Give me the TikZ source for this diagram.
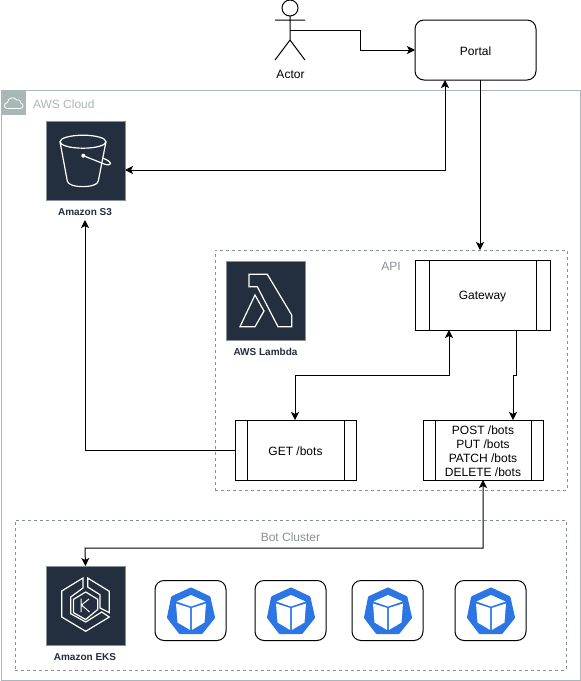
\documentclass[tikz,border=0pt]{standalone}
\usepackage{fontspec}
\setmainfont{Liberation Sans}
\usetikzlibrary{arrows.meta}
\definecolor{awsgrey}{HTML}{AAB7B8}
\definecolor{awsnavy}{HTML}{232F3E}
\definecolor{dashgrey}{HTML}{879196}
\definecolor{kubeblue}{HTML}{2C75E4}
\newcommand{\dropbox}[2]{\raisebox{0pt}[\dimexpr\height+#1\relax]{#2}}
\tikzset{
  x=1pt,y=-1pt,
  every node/.style={inner sep=0pt,outer sep=0pt,font=\fontsize{12}{14}\selectfont,text=black},
  flow/.style={draw=black,line width=1pt,-{Stealth[length=8pt,width=8pt,inset=2pt]}},
  biflow/.style={draw=black,line width=1pt,{Stealth[length=8pt,width=8pt,inset=2pt]}-{Stealth[length=8pt,width=8pt,inset=2pt]}},
  group/.style={draw=dashgrey,dash pattern=on 3pt off 3pt,line width=.8pt},
  procbox/.style={draw=black,line width=1pt,fill=white,align=center},
  icontile/.style={draw=dashgrey,line width=.8pt,fill=awsnavy,minimum width=79pt,minimum height=79pt},
  iconline/.style={draw=white,line width=1.2pt,line join=miter},
  iconlabel/.style={font=\fontsize{10}{12}\selectfont\bfseries,text=awsnavy},
  grouplabel/.style={font=\fontsize{12}{14}\selectfont,text=dashgrey},
  kubetile/.style={draw=black,line width=1pt,rounded corners=9pt,fill=white,minimum width=71pt,minimum height=60pt},
  pics/kube/.style={code={
    \fill[kubeblue,line join=round,draw=kubeblue,line width=3pt]
      (0.5,-21.5) -- (18.5,-13) -- (23,7) -- (11,22) -- (-10.5,22) -- (-22,7) -- (-18,-13) -- cycle;
    \fill[white] (0.5,-15.5) -- (15,-9) -- (0.5,-4) -- (-14,-9) -- cycle;
    \fill[white] (-14.5,-7) -- (-0.3,-2.5) -- (-0.3,19.5) -- (-13,12) -- cycle;
    \fill[white] (15.5,-7) -- (1.3,-2.5) -- (1.3,19.5) -- (14,12) -- cycle;
  }}
}
\begin{document}
\begin{tikzpicture}
\useasboundingbox (0,0) rectangle (581,681);
\fill[white] (0,0) rectangle (581,681);

% AWS Cloud group
\node[draw=awsgrey,line width=1pt,minimum width=579pt,minimum height=590pt,anchor=north west] (cloud) at (1,90) {};
\node[fill=awsgrey,minimum width=25pt,minimum height=25pt,anchor=north west] (cloudtab) at (1,90) {};
\draw[white,line width=.8pt,line join=round]
  (7,108.5) .. controls (3.5,108.5) and (3.5,103) .. (7.5,102.5)
  .. controls (8,97.5) and (14,96) .. (16.5,100)
  .. controls (20,99) and (21,102) .. (20.5,103)
  .. controls (24,103.5) and (24,108.5) .. (20,108.5) -- cycle;
\node[grouplabel,text=awsgrey,anchor=west] (cloudlabel) at (33,104) {AWS Cloud};

% dashed groups
\node[group,minimum width=352pt,minimum height=240pt,anchor=north west] (api) at (215,250) {};
\node[grouplabel] (apilabel) at (391,266) {API};
\node[group,minimum width=551pt,minimum height=150pt,anchor=north west] (bots) at (15,520) {};
\node[grouplabel] (botlabel) at (290.5,537) {Bot Cluster};

% Actor
\node[draw=black,line width=1pt,circle,minimum size=16pt,fill=white] (head) at (290,8) {};
\coordinate (waist) at (290,30);
\draw[line width=1pt,line join=miter] (head.south) -- (290,40) (275,20) -- (305,20) (275,60) -- (290,40) -- (305,60);
\node (actorlabel) at (290.5,74) {Actor};

% Portal
\node[draw=black,line width=1pt,rounded corners=9pt,minimum width=121pt,minimum height=60pt,anchor=north west] (portal) at (415,20) {\dropbox{2pt}{Portal}};

% AWS tiles
\node[icontile,anchor=north west] (s3) at (46,121) {};
\node[iconlabel] (s3label) at (85,212) {Amazon S3};
\node[icontile,anchor=north west] (lambda) at (226,261) {};
\node[iconlabel] (lambdalabel) at (265.5,352) {AWS Lambda};
\node[icontile,anchor=north west] (eks) at (46,566) {};
\node[iconlabel] (ekslabel) at (85,657) {Amazon EKS};

% S3 bucket
\begin{scope}[iconline]
\draw (83,141.7) ellipse [x radius=23,y radius=6.5];
\draw (60,141.7) -- (67.3,181) .. controls (68,188.5) and (97.5,188.5) .. (98.3,181) -- (106,141.7);
\draw (83.3,155.7) -- (105,164.3) .. controls (112,166.5) and (113,162) .. (103.3,158.3);
\fill[white] (83.3,155.7) circle (2pt);
\end{scope}

% Lambda glyph
\begin{scope}[iconline]
\draw (249,274.3) -- (267.3,274.3) -- (291.7,315) -- (291.7,326.7) -- (278,326.7) -- (257.3,286.7) -- (249,286.7) -- cycle;
\draw (240,326.7) -- (255,295) -- (264,311) -- (255,326.7) -- cycle;
\end{scope}

% EKS glyph
\begin{scope}[iconline]
\draw (83,578) -- (61.7,591) -- (61.7,617) -- (85.7,631.3) -- (109.3,617) -- (101.7,612) -- (85.7,622) -- (70.7,613.7) -- (70.7,597) -- (83,588) -- cycle;
\draw (87.7,578) -- (109.3,591.3) -- (109.3,612.7) -- (100,608) -- (100,594.7) -- (87.7,587) -- cycle;
\draw (73.5,599.3) -- (85.7,592) -- (97.7,599.3) -- (97.7,609.5) -- (85.7,619.5) -- (73.5,612.7) -- cycle;
\draw[line width=1pt] (81,598.5) -- (81,612) (89,599) -- (81.5,605) -- (89.5,612);
\end{scope}

% Kubernetes tiles
\node[kubetile,anchor=north west] (k1) at (155,580.5) {};
\node[kubetile,anchor=north west] (k2) at (255,580.5) {};
\node[kubetile,anchor=north west] (k3) at (352,580.5) {};
\node[kubetile,anchor=north west] (k4) at (455,580.5) {};
\pic at (k1.center) {kube};
\pic at (k2.center) {kube};
\pic at (k3.center) {kube};
\pic at (k4.center) {kube};

% Process boxes
\node[procbox,minimum width=135pt,minimum height=70pt,anchor=north west] (gateway) at (415,260) {\dropbox{4pt}{Gateway}};
\draw[line width=1pt] ([xshift=14pt]gateway.north west) -- ([xshift=14pt]gateway.south west)
  ([xshift=-14pt]gateway.north east) -- ([xshift=-14pt]gateway.south east);
\node[procbox,minimum width=121pt,minimum height=60pt,anchor=north west] (get) at (235,420) {\dropbox{2pt}{GET /bots}};
\draw[line width=1pt] ([xshift=12pt]get.north west) -- ([xshift=12pt]get.south west)
  ([xshift=-12pt]get.north east) -- ([xshift=-12pt]get.south east);
\node[procbox,minimum width=120pt,minimum height=60pt,anchor=north west] (write) at (423,420) {\dropbox{2pt}{\parbox{96pt}{\centering POST /bots\\PUT /bots\\PATCH /bots\\DELETE /bots}}};
\draw[line width=1pt] ([xshift=12pt]write.north west) -- ([xshift=12pt]write.south west)
  ([xshift=-12pt]write.north east) -- ([xshift=-12pt]write.south east);

% Connectors
\draw[flow] (waist) -- ++(70,0) |- (portal.west);
\draw[flow] ([xshift=65pt]portal.south west) -- ([xshift=65pt]portal.south west |- api.north);
\draw[biflow] ([xshift=30pt]portal.south west) |- ([yshift=-9.5pt]s3.east);
\draw[biflow] ([xshift=34pt]gateway.south west) -- ++(0,45) -| ([xshift=-0.5pt]get.north);
\draw[flow] ([xshift=101pt]gateway.south west) -- ++(0,45) -- ++(-3,0) -- ([xshift=90pt]write.north west);
\draw[flow] (get.west) -| (85,220);
\draw[biflow] (write.south) |- (85,548) -- (eks.north);
\end{tikzpicture}
\end{document}
